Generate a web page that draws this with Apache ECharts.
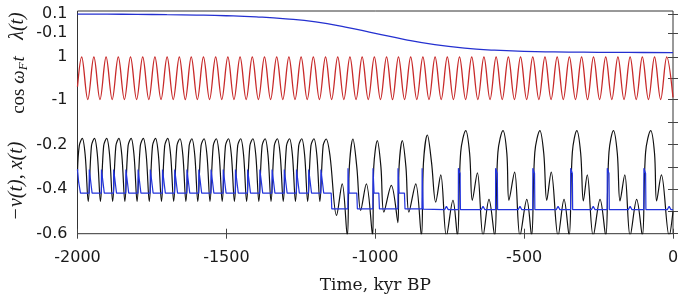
<!DOCTYPE html>
<html>
<head>
<meta charset="utf-8">
<title>forcing and response</title>
<script src="https://cdn.jsdelivr.net/npm/echarts@6/dist/echarts.min.js"></script>
<style>
  html, body { margin: 0; padding: 0; background: #fff; }
  #chart { width: 680px; height: 296px; }
</style>
</head>
<body>
<div id="chart"></div>
<script>
// time axis (kyr BP)
const timeMin = -2000
const timeMax = 0

// top strip: lambda(t)
const lambdaTicks = [0.1, -0.1]
const lambdaData = [
  [-2000, 0.099], [-1900, 0.098], [-1800, 0.096], [-1700, 0.093], [-1600, 0.089],
  [-1500, 0.082], [-1400, 0.07], [-1300, 0.05], [-1200, 0.018], [-1100, -0.035],
  [-1000, -0.1], [-900, -0.165], [-800, -0.218], [-700, -0.254], [-600, -0.275],
  [-500, -0.287], [-400, -0.293], [-300, -0.296], [-200, -0.298], [-100, -0.299], [0, -0.3]
]

// middle strip: cos(w_F t), extrema
const cosTicks = [1, 0, -1]
const cosLabels = [1, -1]
const cosData = [
  [-2000, -0.4],
  [-1986, 1], [-1965.5, -1], [-1945, 1], [-1924.5, -1], [-1904, 1], [-1883.5, -1],
  [-1863, 1], [-1842.5, -1], [-1822, 1], [-1801.5, -1], [-1781, 1], [-1760.5, -1],
  [-1740, 1], [-1719.5, -1], [-1699, 1], [-1678.5, -1], [-1658, 1], [-1638, -1],
  [-1618, 1], [-1597.5, -1], [-1577, 1], [-1556.5, -1], [-1536, 1], [-1515.5, -1],
  [-1495, 1], [-1474.5, -1], [-1454, 1], [-1433.5, -1], [-1413, 1], [-1392.5, -1],
  [-1372, 1], [-1351.5, -1], [-1331, 1], [-1310.5, -1], [-1290, 1], [-1269.5, -1],
  [-1249, 1], [-1228.5, -1], [-1208, 1], [-1187.5, -1], [-1167, 1], [-1146.5, -1],
  [-1126, 1], [-1105.5, -1], [-1085, 1], [-1064.5, -1], [-1044, 1], [-1023.5, -1],
  [-1003, 1], [-982.5, -1], [-962, 1], [-942, -1], [-922, 1], [-901.5, -1],
  [-881, 1], [-860.5, -1], [-840, 1], [-819.5, -1], [-799, 1], [-778.5, -1],
  [-758, 1], [-737.5, -1], [-717, 1], [-696.5, -1], [-676, 1], [-655.5, -1],
  [-635, 1], [-614.5, -1], [-594, 1], [-573.5, -1], [-553, 1], [-532.5, -1],
  [-512, 1], [-491.5, -1], [-471, 1], [-450.5, -1], [-430, 1], [-409.5, -1],
  [-389, 1], [-368.5, -1], [-348, 1], [-327.5, -1], [-307, 1], [-287, -1],
  [-267, 1], [-246.5, -1], [-226, 1], [-205.5, -1], [-185, 1], [-164.5, -1],
  [-144, 1], [-123.5, -1], [-103, 1], [-82.5, -1], [-62, 1], [-41.5, -1],
  [-21, 1], [0, -0.9]
]

// bottom strip: -v(t) (black) and x(t) (blue)
const respTicks = [-0.1, -0.2, -0.3, -0.4, -0.5, -0.6]
const respLabels = [-0.2, -0.4, -0.6]
const vData = [
  [-2000, -0.32], [-1994, -0.205],
  [-1984, -0.172], [-1974, -0.25], [-1964, -0.455], [-1953, -0.205],
  [-1943, -0.172], [-1933, -0.25], [-1923, -0.455], [-1912, -0.205],
  [-1902, -0.172], [-1892, -0.25], [-1882, -0.455], [-1871, -0.205],
  [-1861, -0.172], [-1851, -0.25], [-1841, -0.455], [-1830, -0.205],
  [-1820, -0.172], [-1810, -0.25], [-1800, -0.455], [-1789, -0.205],
  [-1779, -0.172], [-1769, -0.25], [-1759, -0.455], [-1748, -0.205],
  [-1738, -0.172], [-1728, -0.25], [-1718, -0.455], [-1707, -0.205],
  [-1697, -0.172], [-1687, -0.25], [-1677, -0.455], [-1666, -0.205],
  [-1656, -0.174], [-1646, -0.25], [-1636, -0.455], [-1625, -0.205],
  [-1616, -0.174], [-1606, -0.25], [-1596, -0.455], [-1585, -0.205],
  [-1575, -0.174], [-1565, -0.25], [-1555, -0.455], [-1544, -0.205],
  [-1534, -0.174], [-1524, -0.25], [-1514, -0.455], [-1503, -0.205],
  [-1493, -0.174], [-1483, -0.25], [-1473, -0.455], [-1462, -0.205],
  [-1452, -0.174], [-1442, -0.25], [-1432, -0.455], [-1421, -0.205],
  [-1411, -0.174], [-1401, -0.25], [-1391, -0.455], [-1380, -0.205],
  [-1370, -0.174], [-1360, -0.25], [-1350, -0.455], [-1339, -0.205],
  [-1329, -0.174], [-1319, -0.25], [-1309, -0.455], [-1298, -0.205],
  [-1288, -0.174], [-1278, -0.25], [-1268, -0.455], [-1257, -0.205],
  [-1247, -0.174], [-1237, -0.25], [-1227, -0.455], [-1216, -0.205],
  [-1206, -0.174], [-1196, -0.25], [-1186, -0.455], [-1175, -0.205],
  [-1165, -0.175], [-1152, -0.25], [-1130, -0.518], [-1111, -0.376],
  [-1094, -0.61], [-1087, -0.3], [-1075, -0.175], [-1062, -0.3],
  [-1049, -0.495], [-1030, -0.376], [-1009, -0.61], [-1005, -0.3],
  [-993, -0.182], [-981, -0.3], [-971, -0.503], [-946, -0.383],
  [-924, -0.55], [-920, -0.3], [-909, -0.182], [-897, -0.3],
  [-887, -0.503], [-864, -0.376], [-845, -0.61], [-838, -0.28],
  [-825, -0.157], [-811, -0.28], [-797, -0.458], [-780, -0.336],
  [-761, -0.61], [-739, -0.45], [-724, -0.61], [-713, -0.234],
  [-696, -0.137], [-683, -0.24], [-674, -0.45], [-657, -0.327],
  [-638, -0.61], [-618, -0.446], [-599, -0.61], [-588, -0.234],
  [-571, -0.137], [-558, -0.24], [-551, -0.45], [-532, -0.324],
  [-514, -0.61], [-491, -0.446], [-475, -0.61], [-464, -0.234],
  [-447, -0.137], [-434, -0.24], [-424, -0.45], [-409, -0.324],
  [-386, -0.61], [-366, -0.446], [-349, -0.61], [-338, -0.234],
  [-323, -0.137], [-310, -0.24], [-301, -0.453], [-288, -0.336],
  [-268, -0.61], [-245, -0.446], [-226, -0.61], [-215, -0.234],
  [-200, -0.137], [-187, -0.24], [-178, -0.453], [-162, -0.336],
  [-144, -0.61], [-122, -0.446], [-103, -0.61], [-92, -0.234],
  [-75, -0.137], [-62, -0.24], [-55, -0.453], [-39, -0.336],
  [-13, -0.61], [0, -0.5]
]
const xData = [
  [-2000, -0.31], [-1996, -0.37], [-1990, -0.418],
  [-1961, -0.418], [-1960.5, -0.312], [-1957, -0.35], [-1951, -0.418],
  [-1920, -0.418], [-1919.5, -0.312], [-1916, -0.35], [-1910, -0.418],
  [-1879, -0.418], [-1878.5, -0.312], [-1875, -0.35], [-1869, -0.418],
  [-1838, -0.418], [-1837.5, -0.312], [-1834, -0.35], [-1828, -0.418],
  [-1797, -0.418], [-1796.5, -0.312], [-1793, -0.35], [-1787, -0.418],
  [-1756, -0.418], [-1755.5, -0.312], [-1752, -0.35], [-1746, -0.418],
  [-1715, -0.418], [-1714.5, -0.312], [-1711, -0.35], [-1705, -0.418],
  [-1674, -0.418], [-1673.5, -0.312], [-1670, -0.35], [-1664, -0.418],
  [-1633, -0.418], [-1632.5, -0.312], [-1629, -0.35], [-1623, -0.418],
  [-1593, -0.418], [-1592.5, -0.312], [-1589, -0.35], [-1583, -0.418],
  [-1552, -0.418], [-1551.5, -0.312], [-1548, -0.35], [-1542, -0.418],
  [-1511, -0.418], [-1510.5, -0.312], [-1507, -0.35], [-1501, -0.418],
  [-1470, -0.418], [-1469.5, -0.312], [-1466, -0.35], [-1460, -0.418],
  [-1429, -0.418], [-1428.5, -0.312], [-1425, -0.35], [-1419, -0.418],
  [-1388, -0.418], [-1387.5, -0.312], [-1384, -0.35], [-1378, -0.418],
  [-1347, -0.418], [-1346.5, -0.312], [-1343, -0.35], [-1337, -0.418],
  [-1306, -0.418], [-1305.5, -0.312], [-1302, -0.35], [-1296, -0.418],
  [-1265, -0.418], [-1264.5, -0.312], [-1261, -0.35], [-1255, -0.418],
  [-1224, -0.418], [-1223.5, -0.312], [-1220, -0.35], [-1214, -0.418],
  [-1183, -0.418], [-1182.5, -0.312], [-1179, -0.35], [-1173, -0.418],
  [-1148, -0.418], [-1146, -0.489], [-1092, -0.489], [-1091.5, -0.306],
  [-1088, -0.418], [-1062, -0.418], [-1060, -0.489], [-1008, -0.489],
  [-1007.5, -0.306], [-1004, -0.418], [-988, -0.418], [-986, -0.489],
  [-924, -0.489], [-923.5, -0.306], [-920, -0.418], [-902, -0.418],
  [-900, -0.489], [-843, -0.489], [-842.5, -0.306], [-839, -0.49],
  [-767, -0.492], [-761, -0.477], [-755, -0.492],
  [-721, -0.492], [-720.7, -0.306], [-715, -0.33], [-714, -0.492],
  [-644, -0.492], [-638, -0.477], [-632, -0.492],
  [-596, -0.492], [-595.7, -0.306], [-590, -0.33], [-589, -0.492],
  [-520, -0.492], [-514, -0.477], [-508, -0.492],
  [-471, -0.492], [-470.7, -0.306], [-465, -0.33], [-464, -0.492],
  [-392, -0.492], [-386, -0.477], [-380, -0.492],
  [-344, -0.492], [-343.7, -0.306], [-338, -0.33], [-337, -0.492],
  [-274, -0.492], [-268, -0.477], [-262, -0.492],
  [-221, -0.492], [-220.7, -0.306], [-215, -0.33], [-214, -0.492],
  [-150, -0.492], [-144, -0.477], [-138, -0.492],
  [-98, -0.492], [-97.7, -0.306], [-92, -0.33], [-91, -0.492],
  [-19, -0.492], [-13, -0.477], [-7, -0.492], [0, -0.492]
]

const chart = echarts.init(document.getElementById('chart'))

const plotLeft = 77.5
const plotRight = 7
const tickColor = '#444'
const sans = '"DejaVu Sans", Arial, sans-serif'
const serif = '"DejaVu Serif", "Liberation Serif", serif'
const mathFont = '"Liberation Serif", "DejaVu Serif", serif'

function hiddenX(grid) {
  return { type: 'value', gridIndex: grid, min: timeMin, max: timeMax, show: false }
}
// y axis: ticks on both sides of the frame, labels only on the left
function sideY(grid, min, max, ticks, labels, side) {
  return {
    type: 'value',
    gridIndex: grid,
    position: side,
    min: min,
    max: max,
    axisLine: { show: false },
    splitLine: { show: false },
    axisTick: {
      inside: true,
      length: 5,
      customValues: ticks,
      lineStyle: { color: tickColor }
    },
    axisLabel: {
      show: side === 'left',
      customValues: labels,
      margin: 10,
      color: '#1a1a1a',
      fontFamily: sans,
      fontSize: 16,
      formatter: v => String(v)
    }
  }
}
function panel(top, height) {
  return { left: plotLeft, right: plotRight, top: top, height: height, outerBoundsMode: 'none' }
}

const option = {
  animation: false,
  backgroundColor: '#fff',
  grid: [
    panel(14, 38.6),
    panel(57, 42.5),
    panel(100, 133.7),
    // outer frame
    Object.assign(panel(11, 222.7), {
      show: true, borderColor: '#333', borderWidth: 1, backgroundColor: 'transparent'
    })
  ],
  xAxis: [
    hiddenX(0),
    hiddenX(1),
    hiddenX(2),
    {
      type: 'value', gridIndex: 3, position: 'top', min: timeMin, max: timeMax, interval: 500,
      axisLine: { show: false }, splitLine: { show: false }, axisLabel: { show: false },
      axisTick: { inside: true, length: 5, lineStyle: { color: tickColor } }
    },
    {
      type: 'value', gridIndex: 3, position: 'bottom', min: timeMin, max: timeMax, interval: 500,
      axisLine: { show: false }, splitLine: { show: false },
      axisTick: { inside: true, length: 5, lineStyle: { color: tickColor } },
      axisLabel: {
        margin: 16, color: '#1a1a1a', fontFamily: sans, fontSize: 16,
        formatter: v => String(v)
      },
      name: 'Time, kyr BP',
      nameLocation: 'middle',
      nameGap: 43,
      nameTextStyle: { fontFamily: serif, fontSize: 17, color: '#1a1a1a' }
    }
  ],
  yAxis: [
    sideY(0, -0.3, 0.1, lambdaTicks, lambdaTicks, 'left'),
    sideY(0, -0.3, 0.1, lambdaTicks, lambdaTicks, 'right'),
    sideY(1, -1, 1, cosTicks, cosLabels, 'left'),
    sideY(1, -1, 1, cosTicks, cosLabels, 'right'),
    sideY(2, -0.6, 0, respTicks, respLabels, 'left'),
    sideY(2, -0.6, 0, respTicks, respLabels, 'right'),
    { type: 'value', gridIndex: 3, show: false }
  ],
  graphic: [
    {
      type: 'text', x: 18, y: 26, rotation: Math.PI / 2,
      style: {
        text: 'λ(t)', font: 'italic 20px ' + mathFont, fill: '#1a1a1a',
        align: 'center', verticalAlign: 'middle'
      }
    },
    {
      type: 'text', x: 19, y: 85, rotation: Math.PI / 2,
      style: {
        text: '{r|cos }{i|ω}{s|F}{i|t}',
        align: 'center', verticalAlign: 'middle', fill: '#1a1a1a',
        rich: {
          r: { fontFamily: mathFont, fontSize: 19, lineHeight: 22, verticalAlign: 'middle' },
          i: { fontFamily: mathFont, fontStyle: 'italic', fontSize: 19, lineHeight: 22, verticalAlign: 'middle' },
          s: { fontFamily: mathFont, fontStyle: 'italic', fontSize: 13, lineHeight: 22, verticalAlign: 'bottom', padding: [0, 1, 0, 0] }
        }
      }
    },
    {
      type: 'text', x: 17, y: 181, rotation: Math.PI / 2,
      style: {
        text: '−v(t), x(t)', font: 'italic 20px ' + mathFont, fill: '#1a1a1a',
        align: 'center', verticalAlign: 'middle'
      }
    }
  ],
  series: [
    {
      type: 'line', xAxisIndex: 0, yAxisIndex: 0, data: lambdaData,
      showSymbol: false, smooth: true, clip: false,
      lineStyle: { color: '#2430d0', width: 1.3 }
    },
    {
      type: 'line', xAxisIndex: 1, yAxisIndex: 2, data: cosData,
      showSymbol: false, smooth: 0.36, clip: false,
      lineStyle: { color: '#c82a2a', width: 1.3 }
    },
    {
      type: 'line', xAxisIndex: 2, yAxisIndex: 4, data: vData,
      showSymbol: false, smooth: 0.35, clip: true,
      lineStyle: { color: '#111', width: 1.2 }
    },
    {
      type: 'line', xAxisIndex: 2, yAxisIndex: 4, data: xData,
      showSymbol: false, smooth: false, clip: true,
      lineStyle: { color: '#2233dd', width: 1.2 }
    }
  ]
}

chart.setOption(option)
</script>
</body>
</html>
